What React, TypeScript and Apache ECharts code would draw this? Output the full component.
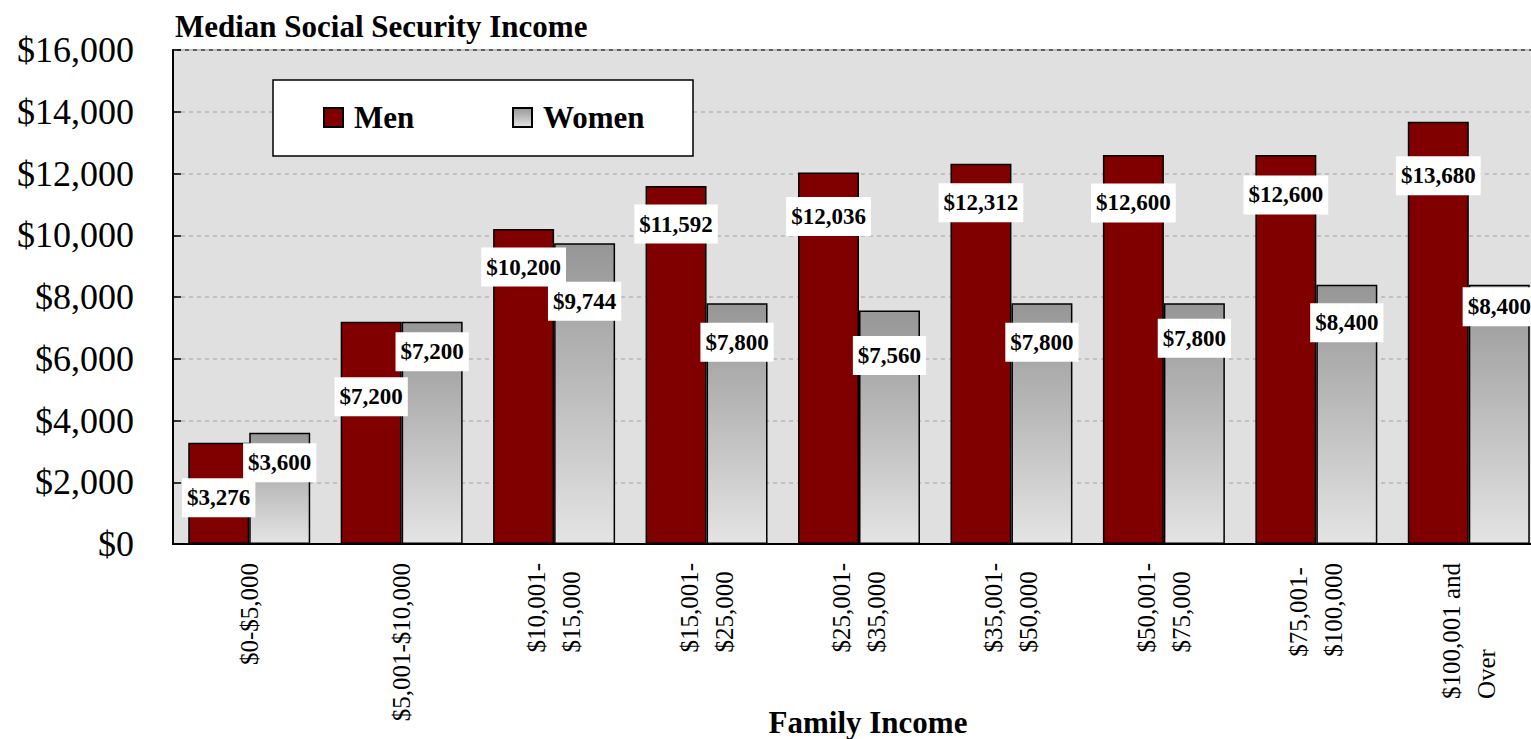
import React, { useEffect, useRef } from "react";
import * as echarts from "echarts";

const categories = [
  "$0-$5,000",
  "$5,001-$10,000",
  "$10,001-\n$15,000",
  "$15,001-\n$25,000",
  "$25,001-\n$35,000",
  "$35,001-\n$50,000",
  "$50,001-\n$75,000",
  "$75,001-\n$100,000",
  "$100,001 and\nOver",
];
const menValues = [3276, 7200, 10200, 11592, 12036, 12312, 12600, 12600, 13680];
const womenValues = [3600, 7200, 9744, 7800, 7560, 7800, 7800, 8400, 8400];
const seriesNames = ["Men", "Women"];
const chartTitle = "Median Social Security Income";
const xAxisTitle = "Family Income";

// label placement (style): distance of label centre below bar top, px
const menLabelDrop = [55, 75, 38, 38, 44, 39, 48, 40, 54];
const womenLabelDrop = [30, 30, 58, 39, 45, 39, 35, 38, 22];

const FONT = "'Liberation Serif', 'Times New Roman', serif";
const money = (v: number) => "$" + Number(v).toLocaleString("en-US");

export default function App() {
  const ref = useRef<HTMLDivElement>(null);
  useEffect(() => {
    if (!ref.current) return;
    const chart = echarts.init(ref.current, null, { renderer: "svg" });
    const labelBase = {
      show: true,
      formatter: (p: any) => money(p.value),
      backgroundColor: "#ffffff",
      padding: [8, 5, 8, 5],
      color: "#000",
      fontSize: 23,
      fontWeight: "bold",
      fontFamily: FONT,
      align: "center",
      verticalAlign: "middle",
    };
    const womenGradient = new echarts.graphic.LinearGradient(0, 0, 0, 1, [
      { offset: 0, color: "#969696" },
      { offset: 1, color: "#e4e4e4" },
    ]);
    chart.setOption({
      animation: false,
      grid: {
        left: 173,
        top: 50,
        width: 1372,
        height: 494,
        show: true,
        backgroundColor: "#e0e0e0",
        borderColor: "#333",
        borderWidth: 1.5,
        containLabel: false,
        outerBoundsMode: "none",
      },
      title: {
        text: chartTitle,
        left: 175,
        top: 11,
        padding: 0,
        textStyle: { fontFamily: FONT, fontSize: 31, fontWeight: "bold", color: "#000" },
      },
      graphic: [
        {
          type: "rect",
          z: 3,
          shape: { x: 273, y: 80, width: 420, height: 76 },
          style: { fill: "#fff", stroke: "#000", lineWidth: 1.5 },
        },
        {
          type: "text",
          z: 5,
          x: 868,
          y: 722,
          style: {
            text: xAxisTitle,
            fontFamily: FONT,
            fontSize: 31,
            fontWeight: "bold",
            fill: "#000",
            align: "center",
            verticalAlign: "middle",
          },
        },
      ],
      legend: {
        data: seriesNames,
        left: 323,
        top: 102,
        padding: 0,
        z: 6,
        itemWidth: 19,
        itemHeight: 19,
        itemGap: 18,
        icon: "rect",
        textStyle: {
          fontFamily: FONT,
          fontSize: 31,
          fontWeight: "bold",
          color: "#000",
          lineHeight: 31,
          width: 140,
          padding: [0, 0, 0, 6],
        },
      },
      xAxis: {
        type: "category",
        data: categories,
        axisLine: { lineStyle: { color: "#000", width: 2 } },
        axisTick: { inside: true, length: 8, lineStyle: { color: "#000", width: 1.5 } },
        axisLabel: {
          rotate: 90,
          margin: 19,
          interval: 0,
          formatter: (v: string) =>
            v
              .split("\n")
              .map((l) => `{a|${l}}`)
              .join("\n"),
          rich: {
            a: { fontFamily: FONT, fontSize: 25, lineHeight: 35, color: "#000", align: "left" },
          },
        },
      },
      yAxis: {
        type: "value",
        min: 0,
        max: 16000,
        interval: 2000,
        axisLine: { show: true, lineStyle: { color: "#000", width: 2 } },
        axisTick: { show: true, inside: true, length: 8, lineStyle: { color: "#000", width: 1.5 } },
        axisLabel: {
          formatter: (v: number) => money(v),
          fontFamily: FONT,
          fontSize: 36,
          color: "#000",
          margin: 39,
        },
        splitLine: { show: true, lineStyle: { color: "#c0c0c0", type: [4, 4], width: 2 } },
      },
      series: [
        {
          name: seriesNames[0],
          type: "bar",
          barGap: "0%",
          barCategoryGap: "20%",
          itemStyle: { color: "#800000", borderColor: "#000", borderWidth: 1.5 },
          label: labelBase,
          data: menValues.map((v, i) => ({
            value: v,
            label: { position: ["50%", menLabelDrop[i]] },
          })),
        },
        {
          name: seriesNames[1],
          type: "bar",
          barGap: "0%",
          barCategoryGap: "20%",
          itemStyle: { color: womenGradient, borderColor: "#000", borderWidth: 1.5 },
          label: labelBase,
          data: womenValues.map((v, i) => ({
            value: v,
            label: { position: ["50%", womenLabelDrop[i]] },
          })),
        },
      ],
    });
    return () => chart.dispose();
  }, []);
  return (
    <div
      ref={ref}
      style={{ position: "absolute", left: 0, top: 0, width: 1531, height: 739, background: "#fff" }}
    />
  );
}
